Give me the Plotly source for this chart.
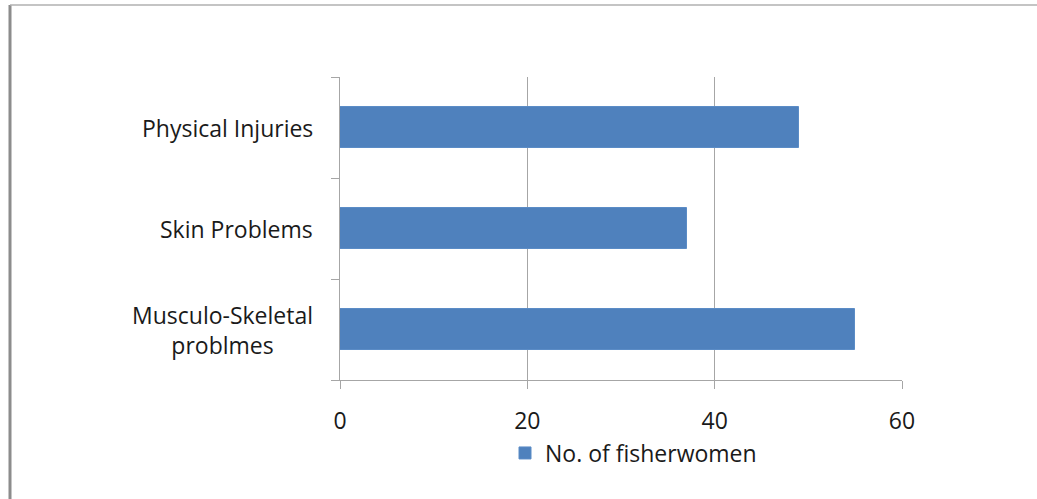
import plotly.graph_objects as go

categories = ["Musculo-Skeletal<br>problmes", "Skin Problems", "Physical Injuries"]
values = [55, 37, 49]
series_name = "No. of fisherwomen"
x_ticks = [0, 20, 40, 60]

W, H = 1037, 499
L, R, T, B = 340, 902, 77, 380
FONT = "Open Sans"
FS = 23
GRID = "#a6a6a6"
TXT = "#1a1a1a"

ypos = list(range(len(categories)))

fig = go.Figure()
fig.add_trace(go.Bar(
    x=values, y=ypos, orientation="h", name=series_name,
    marker=dict(color="#4F81BD", line=dict(color="#5b8cc6", width=1)),
    width=0.4, showlegend=True,
))
fig.add_trace(go.Scatter(x=[None], y=[None], yaxis="y2", showlegend=False))

fig.update_layout(
    width=W, height=H,
    margin=dict(l=L, r=W - R, t=T, b=H - B, autoexpand=False),
    paper_bgcolor="white", plot_bgcolor="white",
    font=dict(family=FONT, size=FS, color=TXT),
    bargap=0,
    xaxis=dict(
        range=[0, 60], tickvals=x_ticks, showgrid=True, gridcolor=GRID, gridwidth=1.3,
        showline=True, linecolor=GRID, linewidth=1.3, zeroline=False,
        ticks="outside", ticklen=8, tickcolor=GRID, tickwidth=1.3,
        ticklabelstandoff=12, tickfont=dict(size=FS, family=FONT, color=TXT),
    ),
    yaxis=dict(
        range=[-0.5, len(categories) - 0.5], tickvals=ypos, ticktext=["" for _ in categories],
        showgrid=False, zeroline=False, showline=True, linecolor=GRID, linewidth=1.3,
        ticks="", fixedrange=True,
    ),
    yaxis2=dict(
        overlaying="y", side="left", range=[-0.5, len(categories) - 0.5],
        tickvals=[i - 0.5 for i in range(len(categories) + 1)],
        ticktext=["" for _ in range(len(categories) + 1)],
        ticks="outside", ticklen=8, tickcolor=GRID, tickwidth=1.3,
        showgrid=False, zeroline=False, showline=False,
    ),
    legend=dict(
        orientation="h", x=(505 - L) / (R - L), xanchor="left",
        y=(B - 453) / (B - T), yanchor="middle",
        font=dict(size=FS, family=FONT, color=TXT),
        bgcolor="rgba(0,0,0,0)", itemwidth=30,
    ),
)

for i, c in enumerate(categories):
    fig.add_annotation(
        x=(315 - L) / (R - L), xref="paper", xanchor="right",
        y=i, yref="y", yanchor="middle",
        text=c, showarrow=False, align="center",
        font=dict(size=FS, family=FONT, color=TXT),
    )

fig.add_shape(type="line", xref="paper", yref="paper",
              x0=(10 - L) / (R - L), x1=(10 - L) / (R - L),
              y0=(B - 5) / (B - T), y1=(B - H - 5) / (B - T),
              line=dict(color="#8c8c8c", width=3))
fig.add_shape(type="line", xref="paper", yref="paper",
              x0=(10 - L) / (R - L), x1=(W + 5 - L) / (R - L),
              y0=(B - 5) / (B - T), y1=(B - 5) / (B - T),
              line=dict(color="#b0b0b0", width=1.5))

fig.write_html("out.html")
